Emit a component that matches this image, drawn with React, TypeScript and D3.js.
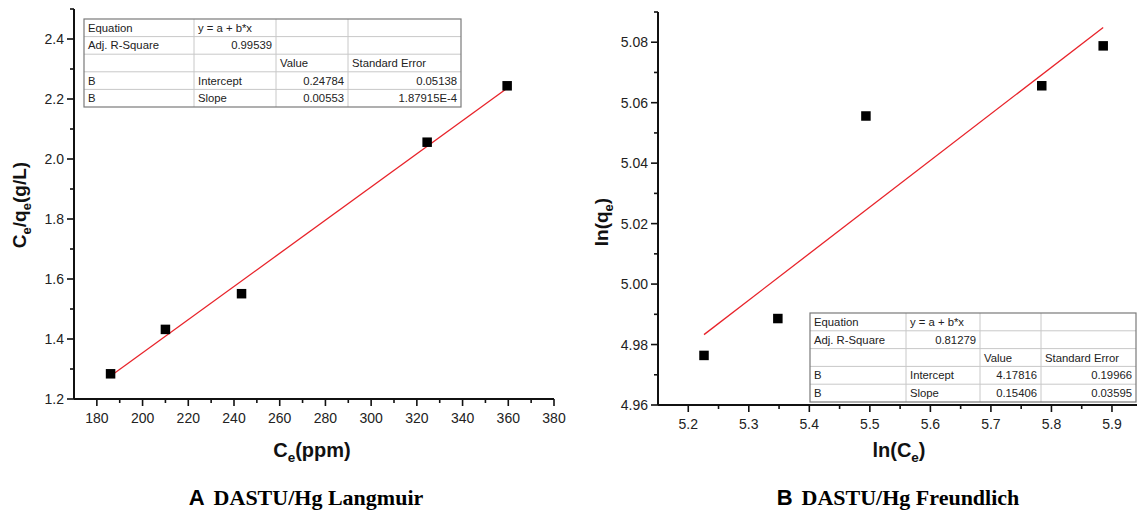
import * as d3 from "d3";

// Langmuir (A)
const langCe = [186, 210, 243.3, 324.5, 359.5];
const langRatio = [1.284, 1.432, 1.551, 2.056, 2.244];
const langFit = { intercept: 0.24784, slope: 0.00553 };
const langTable = [
  ["Equation", "y = a + b*x", "", ""],
  ["Adj. R-Square", "0.99539", "", ""],
  ["", "", "Value", "Standard Error"],
  ["B", "Intercept", "0.24784", "0.05138"],
  ["B", "Slope", "0.00553", "1.87915E-4"],
];

// Freundlich (B)
const frLnCe = [5.226, 5.348, 5.4935, 5.784, 5.8855];
const frLnQe = [4.9764, 4.9886, 5.0556, 5.0656, 5.0788];
const frFit = { intercept: 4.17816, slope: 0.15406 };
const frTable = [
  ["Equation", "y = a + b*x", "", ""],
  ["Adj. R-Square", "0.81279", "", ""],
  ["", "", "Value", "Standard Error"],
  ["B", "Intercept", "4.17816", "0.19966"],
  ["B", "Slope", "0.15406", "0.03595"],
];

const FONT = "Arial, 'Liberation Sans', sans-serif";
const SERIF = "'Liberation Serif', 'Times New Roman', serif";

type TableProps = {
  rows: string[][];
  x: number;
  y: number;
  cols: number[];
  rowH: number;
};

const FitTable = ({ rows, x, y, cols, rowH }: TableProps) => {
  const edges = [0, ...cols];
  const width = cols[cols.length - 1];
  const height = rowH * rows.length;
  // numbers right aligned, words left aligned
  const isNum = (s: string) => /^[0-9.E-]+$/.test(s);
  return (
    <g transform={`translate(${x},${y})`} fontFamily={FONT} fontSize={11.3}>
      <rect width={width} height={height} fill="#fff" />
      {rows.map((_, i) =>
        i > 0 ? (
          <line key={"h" + i} x1={0} x2={width} y1={i * rowH} y2={i * rowH} stroke="#c8c8c8" />
        ) : null
      )}
      {cols.slice(0, -1).map((c, i) => (
        <line key={"v" + i} x1={c} x2={c} y1={0} y2={height} stroke="#c8c8c8" />
      ))}
      <rect width={width} height={height} fill="none" stroke="#7a7a7a" strokeWidth={1.2} />
      {rows.map((r, i) =>
        r.map((cell, j) =>
          cell ? (
            <text
              key={i + "-" + j}
              x={isNum(cell) ? edges[j + 1] - 4 : edges[j] + 4}
              y={i * rowH + rowH / 2 + 4}
              textAnchor={isNum(cell) ? "end" : "start"}
              fill="#222"
            >
              {cell}
            </text>
          ) : null
        )
      )}
    </g>
  );
};

type AxisProps = {
  scale: d3.ScaleLinear<number, number>;
  major: number[];
  minor: number[];
  at: number;
  fmt: (v: number) => string;
};

const XAxis = ({ scale, major, minor, at, fmt }: AxisProps) => {
  const [r0, r1] = scale.range();
  return (
    <g fontFamily={FONT} fontSize={14} fill="#222">
      <line x1={r0} x2={Math.min(r1, 1137)} y1={at} y2={at} stroke="#111" strokeWidth={2} />
      {minor.map((v) => (
        <line key={"m" + v} x1={scale(v)} x2={scale(v)} y1={at} y2={at + 4} stroke="#111" strokeWidth={1.6} />
      ))}
      {major.map((v) => (
        <g key={v}>
          <line x1={scale(v)} x2={scale(v)} y1={at} y2={at + 7} stroke="#111" strokeWidth={1.6} />
          <text x={scale(v)} y={at + 24} textAnchor="middle">
            {fmt(v)}
          </text>
        </g>
      ))}
    </g>
  );
};

const YAxis = ({ scale, major, minor, at, fmt }: AxisProps) => {
  const [r0, r1] = scale.range();
  return (
    <g fontFamily={FONT} fontSize={14} fill="#222">
      <line x1={at} x2={at} y1={r0} y2={r1} stroke="#111" strokeWidth={2} />
      {minor.map((v) => (
        <line key={"m" + v} x1={at - 4} x2={at} y1={scale(v)} y2={scale(v)} stroke="#111" strokeWidth={1.6} />
      ))}
      {major.map((v) => (
        <g key={v}>
          <line x1={at - 7} x2={at} y1={scale(v)} y2={scale(v)} stroke="#111" strokeWidth={1.6} />
          <text x={at - 10} y={scale(v) + 5} textAnchor="end">
            {fmt(v)}
          </text>
        </g>
      ))}
    </g>
  );
};

const stepList = (a: number, b: number, s: number) =>
  d3.range(Math.round((b - a) / s) + 1).map((i) => +(a + i * s).toFixed(4));

const App = () => {
  // Panel A scales
  const xA = d3.scaleLinear().domain([170, 380]).range([74, 554]);
  const yA = d3.scaleLinear().domain([1.2, 2.5]).range([399, 9]);
  // Panel B scales
  const xB = d3.scaleLinear().domain([5.15, 6.0]).range([658, 1172.5]);
  const yB = d3.scaleLinear().domain([4.96, 5.09]).range([405, 12]);

  const lineA = d3
    .line<number>()
    .x((d) => xA(d))
    .y((d) => yA(langFit.intercept + langFit.slope * d));
  const lineB = d3
    .line<number>()
    .x((d) => xB(d))
    .y((d) => yB(frFit.intercept + frFit.slope * d));

  const sq = 9.5;

  return (
    <svg
      width={1137}
      height={516}
      style={{ position: "absolute", left: 0, top: 0, background: "#fff" }}
    >
      {/* Panel A */}
      <YAxis
        scale={yA}
        at={74}
        major={stepList(1.2, 2.4, 0.2)}
        minor={stepList(1.3, 2.5, 0.2)}
        fmt={d3.format(".1f")}
      />
      <XAxis
        scale={xA}
        at={399}
        major={stepList(180, 380, 20)}
        minor={stepList(190, 370, 20)}
        fmt={d3.format("d")}
      />
      <path d={lineA(d3.extent(langCe) as number[]) ?? ""} stroke="#e8232a" strokeWidth={1.3} fill="none" />
      {langCe.map((c, i) => (
        <rect key={i} x={xA(c) - sq / 2} y={yA(langRatio[i]) - sq / 2} width={sq} height={sq} fill="#000" />
      ))}
      <FitTable rows={langTable} x={84} y={19} cols={[110, 192, 264, 377]} rowH={17.6} />
      <text
        transform="translate(26,205) rotate(-90)"
        textAnchor="middle"
        fontFamily={FONT}
        fontWeight="bold"
        fontSize={19}
        fill="#111"
      >
        C<tspan fontSize={13} dy={5}>e</tspan>
        <tspan dy={-5}>/q</tspan>
        <tspan fontSize={13} dy={5}>e</tspan>
        <tspan dy={-5}>(g/L)</tspan>
      </text>
      <text x={312} y={457} textAnchor="middle" fontFamily={FONT} fontWeight="bold" fontSize={20} fill="#111">
        C<tspan fontSize={13.5} dy={5}>e</tspan>
        <tspan dy={-5}>(ppm)</tspan>
      </text>
      <text x={306} y={505} textAnchor="middle" fontWeight="bold" fontSize={22} fill="#000">
        <tspan fontFamily={FONT}>A</tspan>
        <tspan fontFamily={SERIF} dx={9}>
          DASTU/Hg Langmuir
        </tspan>
      </text>

      {/* Panel B */}
      <YAxis
        scale={yB}
        at={658}
        major={stepList(4.96, 5.08, 0.02)}
        minor={stepList(4.97, 5.09, 0.02)}
        fmt={d3.format(".2f")}
      />
      <XAxis
        scale={xB}
        at={405}
        major={stepList(5.2, 5.9, 0.1)}
        minor={stepList(5.25, 5.95, 0.1)}
        fmt={d3.format(".1f")}
      />
      <path d={lineB(d3.extent(frLnCe) as number[]) ?? ""} stroke="#e8232a" strokeWidth={1.3} fill="none" />
      {frLnCe.map((c, i) => (
        <rect key={i} x={xB(c) - sq / 2} y={yB(frLnQe[i]) - sq / 2} width={sq} height={sq} fill="#000" />
      ))}
      <FitTable rows={frTable} x={810} y={313} cols={[96, 170, 231, 326]} rowH={17.8} />
      <text
        transform="translate(608,222) rotate(-90)"
        textAnchor="middle"
        fontFamily={FONT}
        fontWeight="bold"
        fontSize={19}
        fill="#111"
      >
        ln(q<tspan fontSize={13} dy={5}>e</tspan>
        <tspan dy={-5}>)</tspan>
      </text>
      <text x={899} y={457} textAnchor="middle" fontFamily={FONT} fontWeight="bold" fontSize={20} fill="#111">
        ln(C<tspan fontSize={13.5} dy={5}>e</tspan>
        <tspan dy={-5}>)</tspan>
      </text>
      <text x={898} y={505} textAnchor="middle" fontWeight="bold" fontSize={22} fill="#000">
        <tspan fontFamily={FONT}>B</tspan>
        <tspan fontFamily={SERIF} dx={9}>
          DASTU/Hg Freundlich
        </tspan>
      </text>
    </svg>
  );
};

export default App;
